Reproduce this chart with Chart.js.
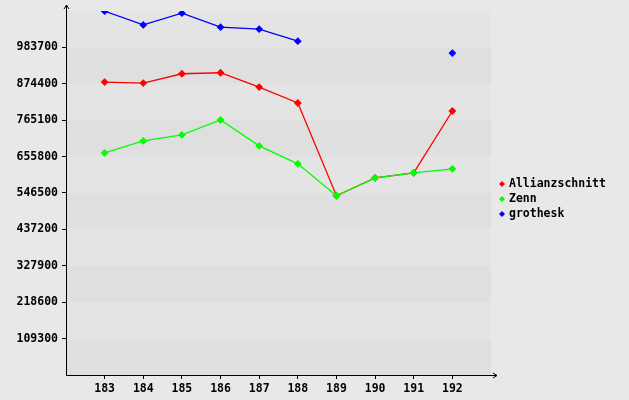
<!DOCTYPE html>
<html>
<head>
<meta charset="utf-8">
<script src="https://cdn.jsdelivr.net/npm/chart.js@4/dist/chart.umd.min.js"></script>
<style>
  html, body { margin: 0; padding: 0; background: #e8e8e8; }
  #wrap { width: 629px; height: 400px; }
</style>
</head>
<body>
<div id="wrap"><canvas id="myChart"></canvas></div>
<script>
  'use strict'

  // data
  const categories = [183, 184, 185, 186, 187, 188, 189, 190, 191, 192]
  const allianzschnitt = [879400, 876400, 904300, 907300, 864400, 816500, 538100, 591900, 606900, 792500]
  const zenn = [666800, 702700, 720700, 765600, 687700, 633800, 538100, 591900, 606900, 618900]
  const grothesk = [1092100, 1051000, 1086100, 1044100, 1038200, 1002200, null, null, null, 966300]
  const yTicks = [109300, 218600, 327900, 437200, 546500, 655800, 765100, 874400, 983700]

  const yStep = 109300
  const yMax = 1093000
  const FONT = "'DejaVu Sans Mono', monospace"

  const toPoints = (vals) => categories.map((c, i) => ({ x: c, y: vals[i] }))

  // alternating grey bands + axis arrows + legend
  const decor = {
    id: 'decor',
    beforeDatasetsDraw(chart) {
      const { ctx, chartArea: a, scales: { y } } = chart
      ctx.save()
      for (let i = 0; i < 10; i++) {
        const top = y.getPixelForValue((i + 1) * yStep)
        const bot = y.getPixelForValue(i * yStep)
        ctx.fillStyle = i % 2 === 0 ? '#dfdfdf' : '#e4e4e4'
        ctx.fillRect(a.left, top, a.right - a.left, bot - top)
      }
      ctx.restore()
    },
    afterDraw(chart) {
      const { ctx, chartArea: a } = chart
      ctx.save()
      ctx.strokeStyle = '#000'
      ctx.fillStyle = '#000'
      ctx.lineWidth = 1
      // y axis
      ctx.beginPath()
      ctx.moveTo(a.left + 0.5, a.bottom)
      ctx.lineTo(a.left + 0.5, 5)
      ctx.moveTo(a.left - 2, 9)
      ctx.lineTo(a.left + 0.5, 5)
      ctx.lineTo(a.left + 3, 9)
      // x axis
      ctx.moveTo(a.left, a.bottom + 0.5)
      ctx.lineTo(a.right + 6, a.bottom + 0.5)
      ctx.moveTo(a.right + 2, a.bottom - 2)
      ctx.lineTo(a.right + 6, a.bottom + 0.5)
      ctx.lineTo(a.right + 2, a.bottom + 3)
      ctx.stroke()

      // legend
      ctx.font = 'bold 11.5px ' + FONT
      ctx.textBaseline = 'middle'
      chart.data.datasets.forEach((ds, i) => {
        const ly = 184 + i * 15
        ctx.fillStyle = ds.borderColor
        ctx.beginPath()
        ctx.moveTo(502, ly - 3)
        ctx.lineTo(505, ly)
        ctx.lineTo(502, ly + 3)
        ctx.lineTo(499, ly)
        ctx.closePath()
        ctx.fill()
        ctx.fillStyle = '#000'
        ctx.fillText(ds.label, 509, ly)
      })
      ctx.restore()
    }
  }

  const ds = (label, color, vals, order) => ({
    label,
    data: toPoints(vals),
    borderColor: color,
    backgroundColor: color,
    borderWidth: 1.3,
    pointStyle: 'rectRot',
    pointRadius: 3,
    pointHoverRadius: 3,
    spanGaps: false,
    tension: 0,
    order
  })

  const ctx = document.getElementById('myChart')

  // eslint-disable-next-line no-unused-vars
  const myChart = new Chart(ctx, {
    type: 'line',
    plugins: [decor],
    data: {
      datasets: [
        ds('Allianzschnitt', '#ff0000', allianzschnitt, 2),
        ds('Zenn', '#00ff00', zenn, 1),
        ds('grothesk', '#0000ff', grothesk, 0)
      ]
    },
    options: {
      responsive: true,
      maintainAspectRatio: false,
      animation: false,
      layout: { padding: { top: 10, right: 138, left: 0, bottom: 0 } },
      plugins: {
        legend: { display: false },
        tooltip: { enabled: false }
      },
      scales: {
        x: {
          type: 'linear',
          min: 182,
          max: 193,
          afterFit: (s) => { s.height = 25 },
          afterBuildTicks: (s) => { s.ticks = categories.map(v => ({ value: v })) },
          border: { display: false },
          grid: { drawOnChartArea: false, tickLength: 4, color: '#000' },
          ticks: {
            padding: 3,
            color: '#000',
            font: { family: FONT, size: 11.5, weight: 'bold' },
            maxRotation: 0,
            autoSkip: false,
            callback: (v) => String(v)
          }
        },
        y: {
          min: 0,
          max: yMax,
          afterFit: (s) => { s.width = 66 },
          afterBuildTicks: (s) => { s.ticks = yTicks.map(v => ({ value: v })) },
          border: { display: false },
          grid: { drawOnChartArea: false, tickLength: 4, color: '#000' },
          ticks: {
            padding: 4,
            color: '#000',
            font: { family: FONT, size: 11.5, weight: 'bold' },
            autoSkip: false,
            callback: (v) => String(v)
          }
        }
      }
    }
  })
</script>
</body>
</html>
